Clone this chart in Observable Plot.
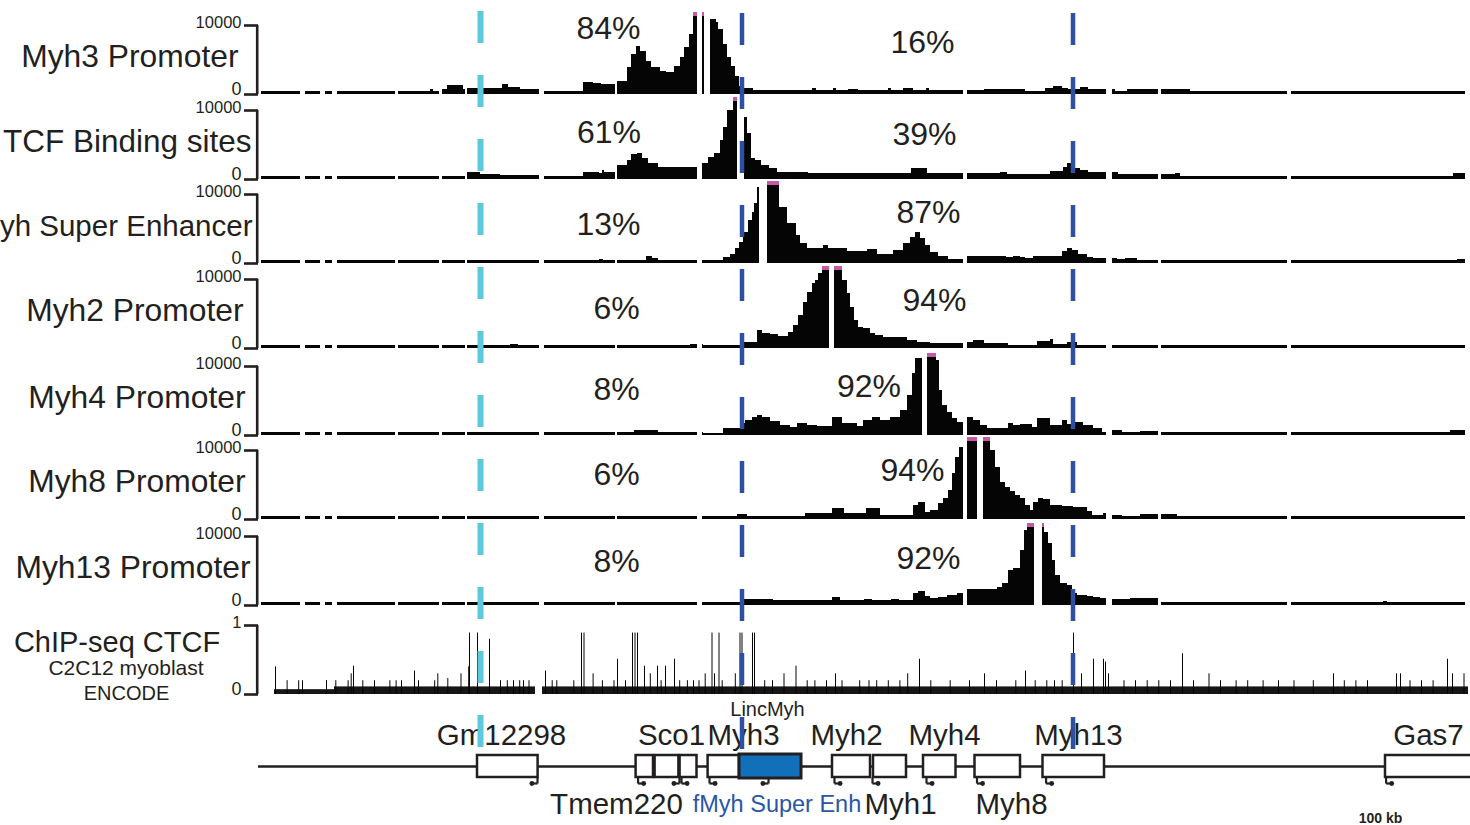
<!DOCTYPE html>
<html><head><meta charset="utf-8">
<script src="https://cdn.jsdelivr.net/npm/d3@7"></script>
<script src="https://cdn.jsdelivr.net/npm/@observablehq/plot@0.6"></script>
<style>
html,body{margin:0;padding:0;background:#fff;overflow:hidden;}
#chart{position:relative;width:1470px;height:825px;overflow:hidden;}
#chart svg{position:absolute;left:0;}
</style></head><body><div id="chart"></div>
<script>
// ---------- data (genomic position in kb, 4C signal in reads) ----------
const trackNames = ["Myh3 Promoter","TCF Binding sites","yh Super Enhancer","Myh2 Promoter","Myh4 Promoter","Myh8 Promoter","Myh13 Promoter"];
const pctLeft  = ["84%","61%","13%","6%","8%","6%","8%"];
const pctRight = ["16%","39%","87%","94%","92%","94%","92%"];
const pctLeftPos  = [[175,9500],[175.25,6750],[175,5650],[179,5800],[179,6650],[179,6450],[179,6400]];
const pctRightPos = [[332,7550],[333,6450],[335,7300],[338,6950],[305.25,7100],[327,7050],[335,6800]];
// unmapped regions shared by all 4C tracks
const gaps = [[21,23.5],[31,33.5],[37,39.5],[68.5,70],[90.5,92],[103.5,104.5],[140.5,143],[178.5,179.5],[219.5,222],[352.5,354.5],[424,427],[450,451.5],[514.5,516.5]];
const dataStart = 1.5, dataEnd = 603.5;
// step data: [start kb, value]; value null = excluded viewpoint
const myh3Promoter = [[1.5,400],[86,700],[87.5,400],[92,725],[94.5,1300],[102.5,725],[104.5,800],
 [122,1450],[125,1000],[131,725],[143,500],[162.5,1750],[167.5,1550],[171.5,1450],
 [179.5,1900],[184.5,3900],[186.5,5800],[189,6950],[191,6250],[194,4800],[196.5,3900],[201,3350],[204,3200],[208,4050],[211,5350],[213,6800],[215.5,8700],[217.5,15000],
 [222,15000],[223,null],[225.75,10900],[228.75,10400],[229.75,9400],[232.7,7250],[234.7,5350],[236.65,4050],[238.65,2600],[240.5,1150],[242.5,870],[247.5,580],
 [277,870],[279,580],[287.5,870],[289,580],[295,725],[300,580],[315,870],[316.5,580],[322.5,870],[327.5,580],[334,870],[335.5,580],
 [354.5,580],[363,725],[371,725],[383.5,400],[393.5,870],[397.5,1160],[402,870],[405,725],[411,1015],[415,725],
 [427,725],[428.5,400],[434.5,725],[451.5,725],[466,400]];
const tcfSites = [[1.5,400],[104.5,1000],[111,725],[121,580],[143,480],[162.5,1000],[170.5,850],[172,1300],[172.8,970],
 [179.5,2030],[184.25,2750],[186.25,3600],[189.25,3770],[192.2,3050],[195,2300],[200,1740],
 [222.2,2300],[224.8,3200],[227.75,3770],[230.75,5650],[232.7,7550],[234.7,10000],[237.5,15000],[239.5,null],
 [243,9000],[244.5,6700],[246.5,3050],[248.5,2750],[251.5,2030],[255.5,1600],[259.5,1015],[275,870],[326.5,1600],[334.5,870],
 [354.5,870],[364,825],[371,1015],[374.5,725],[396,1160],[402.5,1740],[404.5,2300],[408.5,1600],[411,1300],[415,1015],
 [427,1015],[430,725],[451.5,725],[458.5,870],[461,400],[597.5,800]];
const superEnhancer = [[1.5,400],[170.5,580],[172.5,400],[194,970],[197,725],[200,400],
 [222.35,435],[232.5,830],[236,1300],[238.5,2130],[240.5,3050],[242.5,4500],[245,6250],[247,7400],[248,8700],[249.35,11000],[250.65,null],
 [254.65,15000],[260.65,8100],[264.65,5800],[269,4050],[271,2900],[274.35,2180],[282.5,2600],[285,2180],[294.5,1740],[304.5,2030],[309.5,1300],[317.5,1885],[322.5,2900],[326,3770],[328.5,4500],[331,3600],[333.5,2600],[336,1600],[340,1015],[345,580],
 [354.5,970],[374,870],[377.5,1015],[381,870],[383.5,725],[387.5,1015],[396,970],[402,1700],[404.5,2180],[407,1840],[410,1350],[414.5,870],[417.5,680],
 [427,725],[429.5,580],[433.5,725],[439.5,400],[599.5,580]];
const myh2Promoter = [[1.5,400],[126,650],[130,400],[216,650],
 [222.35,435],[242.5,910],[249.35,2610],[251.85,2220],[256,2030],[260,1740],[265,2320],[267.5,3335],[270,4785],[272.5,6670],[274.35,8120],[276.85,9425],[278.5,9860],[280,10875],[281.85,15000],[285.5,null],
 [288,15000],[292.15,9860],[294.35,7975],[296,5945],[298,4060],[300.15,3045],[302.65,2900],[306,2175],[308.5,1885],[312.5,1600],[316,1550],[324.35,1160],[329.35,910],[336,680],
 [354.5,900],[357.25,1160],[363,680],[371,770],[375,435],[389.5,1015],[396,1300],[397.5,580],[404.5,910],[409.5,435],
 [427,400]];
const myh4Promoter = [[1.5,400],[188,725],[200,400],
 [222.35,350],[232.5,970],[241,1700],[243.5,2175],[246.85,2570],[249.35,2900],[251.85,2570],[256,2075],[261,1450],[266,1200],[269.35,1700],[274.35,1450],[279.35,1350],[286.85,2570],[291.85,1700],[299.35,1300],[302.65,2175],[306.85,2570],[311,2175],[316,2570],[321,3625],[324.35,5800],[326.85,9000],[328.5,11200],[331.85,null],
 [334.65,15000],[339,10875],[340.5,6500],[342,4350],[344.5,3335],[347,2465],[349.5,1885],
 [354.5,2610],[357.65,2175],[361,1450],[364.35,970],[375.15,1700],[377.65,1450],[381,1600],[387,1160],[389.5,2420],[396,1450],[402,2175],[404.5,1600],[407,1885],[412.5,1450],[417.5,970],[421.85,480],
 [427,725],[432,400],[441,620],[451.5,400],[596,725]];
const myh8Promoter = [[1.5,400],[189,435],[193,400],[210,435],[212,400],
 [239.5,725],[244.5,400],[255.5,435],[268.3,400],[273.25,830],[287,1550],[293,910],[304,1550],[310.8,580],[327.65,2030],[330.15,2510],[333.5,1060],[336,1300],[340.15,2275],[342.65,3000],[345.15,4200],[346.85,6625],[348.5,9000],[350.5,10440],
 [354.65,15000],[359.35,null],[362.35,15000],[366,10000],[368.5,7540],[371,5400],[373.5,4640],[376,4060],[378.5,3480],[381,3000],[383.5,2030],[386,1300],[387.5,2465],[390,3000],[392.5,2860],[396,2030],[402,1885],[407.5,1780],[414.5,1200],[417,580],[422.5,830],
 [427,580],[432,400],[441,725],[451.5,680],[459.5,435],[466,400]];
const myh13Promoter = [[1.5,400],[194,480],[200,400],[216,480],
 [241.5,830],[257.5,680],[287,1200],[291,680],[303,830],[307,680],[316.5,830],[320.5,680],[327.65,1700],[330.15,2075],[333.5,1300],[336,970],[340.15,1200],[344.35,1450],[349.35,1700],
 [354.65,2275],[369.35,2570],[371.85,3235],[375.15,5075],[377.65,5300],[381,7975],[383,10875],[384.35,15000],[388,null],
 [391.85,15000],[393,10580],[395.15,8990],[396.85,6525],[398.5,4350],[401,3145],[404.35,2900],[406.85,1700],[409.35,1450],[414.35,1300],[417.65,1200],[421,970],
 [427,830],[436,970],[451.5,480],[453.5,400],[459.5,480],[471,400],[496,480],[507,400],[536,480],[546,400],[562.5,580],[564.5,400]];
const tracks = [myh3Promoter, tcfSites, superEnhancer, myh2Promoter, myh4Promoter, myh8Promoter, myh13Promoter];

// CTCF ChIP-seq (C2C12 myoblast, ENCODE)
const ctcfFloor = [[8,38,0.07],[38,138.5,0.11],[142,605,0.11]];
const ctcfPeaks = [[8.5,.40],[14.3,.2],[20.1,.2],[22,.2],[34,.2],[38.65,.2],[44.8,.2],[46.35,.30],[47.5,.41],[52.15,.2],[58,.2],[65.7,.2],[68.8,.2],[71.5,.2],[78,.34],[80,.2],[88.1,.2],[89.65,.30],[94.65,.23],[101.25,.30],[105.1,.40],[105.5,.89],[109.5,.89],[115.5,.80],[121,.2],[124.4,.2],[127.5,.2],[130.6,.2],[132.5,.2],[135.25,.2],[143.5,.34],[146.85,.2],[149.15,.2],[157.65,.2],[161.5,.89],[162.75,.89],[167.3,.30],[171.95,.2],[177.75,.2],[179.5,.51],[183.5,.2],[187,.89],[188.25,.89],[189.5,.89],[193,.41],[195.9,.30],[199.5,.41],[201.3,.2],[203.5,.41],[208,.51],[210.6,.2],[214.45,.2],[217.5,.2],[220.25,.2],[223.35,.30],[226.75,.89],[228,.30],[230.25,.89],[231.85,.2],[238.4,.30],[240.75,.89],[241.75,.89],[247,.89],[248,.89],[253.1,.2],[257,.2],[262.75,.30],[268.75,.41],[274.35,.2],[278.2,.2],[284,.2],[288.5,.30],[291.75,.2],[300.6,.2],[305.25,.2],[309.1,.2],[314.9,.2],[320.7,.2],[324.6,.30],[330.5,.51],[336.15,.2],[345.85,.2],[355.5,.2],[363,.30],[369,.2],[378.65,.2],[383.5,.34],[388.35,.2],[394.15,.2],[398,.2],[401.85,.2],[407.5,.89],[411.5,.30],[417.5,.51],[422.5,.51],[423.5,.47],[425,.30],[432.75,.2],[438.5,.2],[444.35,.2],[450.15,.2],[456,.2],[462,.59],[467.5,.2],[475.25,.30],[481,.2],[488.8,.2],[494.6,.2],[502.3,.2],[510,.2],[517.75,.2],[527.4,.2],[537.5,.30],[542.9,.2],[548.7,.2],[554.5,.2],[569,.30],[571,.30],[575.75,.2],[581.5,.2],[587.3,.2],[594.5,.51],[597,.30],[602.75,.30]];

// genes
const geneBoxes = [[109.5,139.8],[188.8,197.5],[198.3,210.2],[210.8,219.25],[224.8,240.5],[287,306],[307.5,324],[332.5,348.75],[358.25,381],[392.25,423],[563.5,612]];
const enhancerBox = [[240.5,271.5]];
const geneNames = ["Gm12298","Sco1","Myh3","Myh2","Myh4","Myh13","Gas7","Tmem220","Myh1","Myh8"];
const geneLabelX = [121.5,206.5,242.5,294,343,410,585,179,321,376.5];
const geneLabelSide = ["above","above","above","above","above","above","above","below","below","below"];
const tssX = [139.5,189.8,210.5,211.5,225.5,255,288,307,334,359.25,393.8,563.8];
const tssDir = [-1,1,-1,1,1,-1,1,1,1,1,1,1];
// viewpoint guide lines
const cyanGuides = [111];
const blueGuides = [241.75, 407.25];

// ---------- layout ----------
const W = 1470, ML = 258, xDomain = [0, 606];
const INK = "#231f20", DATA = "#050505", MAGENTA = "#c45aa9", CYAN = "#5ec8dd", BLUE = "#2e50a2", BOXBLUE = "#1170b9", LABELBLUE = "#2b55a8";
const FONT = "font-family:'Liberation Sans',Arial,Helvetica,sans-serif;background:transparent;overflow:visible;";
const trackBase = [94, 179, 263, 348, 435, 519, 605];
const labelEdge = [238, 251, 252, 243, 245, 245, 250];
const labelSize = [31.8, 31.5, 29.5, 31.8, 31.8, 31.8, 31.8];
const yMax = 11884, capFrom = 11300;
const chart = document.getElementById("chart");

function toBins(steps) {
  const bins = [];
  steps.forEach(([x1, v], i) => {
    if (v == null) return;
    const x2 = i + 1 < steps.length ? steps[i + 1][0] : dataEnd;
    let segs = [[x1, x2]];
    for (const [g1, g2] of gaps) {
      segs = segs.flatMap(([a, b]) => {
        if (g2 <= a || g1 >= b) return [[a, b]];
        const out = [];
        if (g1 > a) out.push([a, g1]);
        if (g2 < b) out.push([g2, b]);
        return out;
      });
    }
    for (const [a, b] of segs) bins.push({x1: a, x2: b, v});
  });
  return bins;
}
function place(svg, top) { svg.style.top = top + "px"; chart.append(svg); }
function tickLabels(top, tickFmt) {
  return [
    Plot.axisY({ticks: [top], tickSize: 14, tickPadding: 3, stroke: "none", fill: INK, fontSize: 16.5, dy: -3, tickFormat: tickFmt}),
    Plot.axisY({ticks: [0], tickSize: 14, tickPadding: 3, stroke: "none", fill: INK, fontSize: 18, dy: -5, tickFormat: tickFmt})
  ];
}

tracks.forEach((steps, i) => {
  const bins = toBins(steps);
  const svg = Plot.plot({
    width: W, height: 88, marginLeft: ML, marginRight: 0, marginTop: 3, marginBottom: 3,
    style: FONT,
    x: {domain: xDomain, axis: null},
    y: {domain: [0, yMax], axis: null},
    marks: [
      Plot.rect(bins, {x1: "x1", x2: "x2", y1: 0, y2: d => Math.min(d.v, yMax), fill: DATA, shapeRendering: "crispEdges"}),
      Plot.rect(bins.filter(d => d.v > yMax), {x1: "x1", x2: "x2", y1: capFrom, y2: yMax, fill: MAGENTA, shapeRendering: "crispEdges"}),
      Plot.axisY({ticks: [0, 10000], tickSize: 14, stroke: INK, strokeWidth: 2.6, fill: "none"}),
      ...tickLabels(10000, d => `${d}`),
      Plot.ruleX([0], {y1: 0, y2: 10000, stroke: INK, strokeWidth: 2.6, dx: -1.3}),
      Plot.text([trackNames[i]], {frameAnchor: "left", y: 5400, dx: labelEdge[i] - ML, textAnchor: "end", fontSize: labelSize[i], fill: INK}),
      Plot.text([pctLeft[i]], {x: pctLeftPos[i][0], y: pctLeftPos[i][1], fontSize: 32, fill: INK}),
      Plot.text([pctRight[i]], {x: pctRightPos[i][0], y: pctRightPos[i][1], fontSize: 32, fill: INK})
    ]
  });
  place(svg, trackBase[i] - 85);
});

// CTCF track
place(Plot.plot({
  width: W, height: 75, marginLeft: ML, marginRight: 0, marginTop: 3, marginBottom: 3,
  style: FONT,
  x: {domain: xDomain, axis: null},
  y: {domain: [0, 1], axis: null},
  marks: [
    Plot.rect(ctcfFloor, {x1: d => d[0], x2: d => d[1], y1: 0, y2: d => d[2], fill: "#161616"}),
    Plot.ruleX(ctcfPeaks, {x: d => d[0], y1: 0, y2: d => d[1], stroke: DATA, strokeWidth: 1}),
    Plot.axisY({ticks: [0, 1], tickSize: 14, stroke: INK, strokeWidth: 2.6, fill: "none"}),
    ...tickLabels(1, d => `${d}`),
    Plot.ruleX([0], {y1: 0, y2: 1, stroke: INK, strokeWidth: 2.6, dx: -1.3}),
    Plot.text(["ChIP-seq CTCF"], {frameAnchor: "left", y: 0.754, dx: 116.5 - ML, textAnchor: "middle", fontSize: 29, fill: INK}),
    Plot.text(["C2C12 myoblast"], {frameAnchor: "left", y: 0.377, dx: 125.5 - ML, textAnchor: "middle", fontSize: 21, fill: INK}),
    Plot.text(["ENCODE"], {frameAnchor: "left", y: 0.02, dx: 126 - ML, textAnchor: "middle", fontSize: 20, fill: INK})
  ]
}), 622);

// gene annotation track
const tss = tssX.map((x, i) => ({x, dir: tssDir[i]}));
const geneLabels = geneNames.map((name, i) => ({name, x: geneLabelX[i], side: geneLabelSide[i]}));
place(Plot.plot({
  width: W, height: 125, marginLeft: ML, marginRight: 0, marginTop: 0, marginBottom: 0,
  style: FONT,
  x: {domain: xDomain, axis: null},
  y: {domain: [-59, 66], axis: null},
  marks: [
    Plot.ruleY([0], {x1: xDomain[0], x2: xDomain[1], stroke: INK, strokeWidth: 2.5}),
    Plot.rect(geneBoxes, {x1: d => d[0], x2: d => d[1], y1: -11, y2: 11, fill: "white", stroke: INK, strokeWidth: 2.5}),
    Plot.rect(enhancerBox, {x1: d => d[0], x2: d => d[1], y1: -12, y2: 12, fill: BOXBLUE, stroke: INK, strokeWidth: 3}),
    Plot.link(tss, {x1: "x", x2: "x", y1: -11, y2: -17, stroke: INK, strokeWidth: 2.2}),
    Plot.link(tss, {x1: "x", x2: d => d.x + d.dir * 2.8, y1: -17, y2: -17, stroke: INK, strokeWidth: 2.2}),
    Plot.dot(tss, {x: d => d.x + d.dir * 2.8, y: -17, r: 2.4, fill: INK}),
    Plot.text(geneLabels, {x: "x", y: d => d.side === "above" ? 31 : -38, text: "name", fontSize: 29.5, fill: INK}),
    Plot.text(["LincMyh"], {x: 254.5, y: 57, fontSize: 20, fill: INK}),
    Plot.text(["fMyh Super Enh"], {x: 259.25, y: -38, fontSize: 23.5, fill: LABELBLUE}),
    Plot.text(["100 kb"], {x: 561, y: -52, fontSize: 14, fontWeight: "bold", fill: INK})
  ]
}), 700);

// viewpoint guides overlay
const overlay = Plot.plot({
  width: W, height: 825, marginLeft: ML, marginRight: 0, marginTop: 11, marginBottom: 57,
  style: FONT + "pointer-events:none;",
  x: {domain: xDomain, axis: null},
  marks: [
    Plot.ruleX(cyanGuides, {x: d => d, stroke: CYAN, strokeWidth: 6, strokeDasharray: "32,32"}),
    Plot.ruleX(blueGuides, {x: d => d, stroke: BLUE, strokeWidth: 4.5, strokeDasharray: "32,32", strokeDashoffset: -2})
  ]
});
place(overlay, 0);
</script></body></html>
